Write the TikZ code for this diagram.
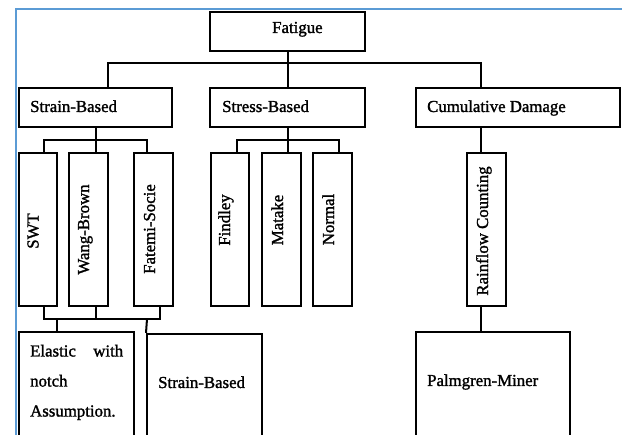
\documentclass[tikz,border=0pt]{standalone}
\usepackage{fontspec}
\setmainfont{Liberation Serif}[FakeBold=1.5]
\definecolor{frameblue}{RGB}{91,155,213}
\begin{document}
\begin{tikzpicture}[x=1pt,y=-1pt,
  box/.style={draw=black, line width=2pt, inner sep=0pt},
  tallbox/.style={box, minimum width=38.5pt, minimum height=153pt},
  conn/.style={draw=black, line width=2pt},
  txt/.style={inner sep=0pt, font=\fontsize{16.8}{20}\selectfont},
  vtxt/.style={txt, rotate=90, anchor=base}]
\useasboundingbox (0,0) rectangle (622,435);
\draw[frameblue, line width=1.8pt] (16,436) -- (16,9) -- (623,9);

% top level
\node[box, minimum width=155pt, minimum height=39pt] (fat) at (287.5,31.5) {};
\node[box, minimum width=153pt, minimum height=39pt] (sb) at (95.5,107.5) {};
\node[box, minimum width=155pt, minimum height=39pt] (ss) at (287.5,107.5) {};
\node[box, minimum width=204pt, minimum height=39pt] (cd) at (518,107.5) {};

% tall boxes
\node[tallbox] (swt) at (38,229.5) {};
\node[tallbox] (wb) at (88.5,229.5) {};
\node[tallbox] (fs) at (153.5,229.5) {};
\node[tallbox] (fin) at (230,229.5) {};
\node[tallbox] (mat) at (281.5,229.5) {};
\node[tallbox] (nor) at (332.5,229.5) {};
\node[tallbox] (rf) at (486.5,229.5) {};

% bottom boxes
\node[box, minimum width=115pt, minimum height=127pt] (el) at (76.5,396) {};
\node[box, minimum width=115pt, minimum height=126pt] (s2) at (204.5,397) {};
\node[box, minimum width=154pt, minimum height=127pt] (pm) at (493,396) {};

% texts
\node[txt, anchor=base west] (tfat) at (272,33) {Fatigue};
\node[txt, anchor=base west] (tsb) at (30,112) {Strain-Based};
\node[txt, anchor=base west] (tss) at (222,112) {Stress-Based};
\node[txt, anchor=base west] (tcd) at (427,112) {Cumulative Damage};
\node[vtxt] (tswt) at (38.5,231) {SWT};
\node[vtxt] (twb) at (89,229.5) {Wang-Brown};
\node[vtxt] (tfs) at (155,229) {Fatemi-Socie};
\node[vtxt] (tfin) at (230,220) {Findley};
\node[vtxt] (tmat) at (283,220) {Matake};
\node[vtxt] (tnor) at (334,219.5) {Normal};
\node[vtxt] (trf) at (488,231) {Rainflow Counting};
\node[txt, anchor=base west, text width=93pt, align=left,
      font=\fontsize{16.8}{30}\selectfont] (tel) at (30,356.5)
      {Elastic\hfill with\\notch\\Assumption.};
\node[txt, anchor=base west] (ts2) at (158,388) {Strain-Based};
\node[txt, anchor=base west] (tpm) at (427,386) {Palmgren-Miner};

% connectors
\coordinate (busA) at (108,63);
\coordinate (busB) at (480.5,63);
\draw[conn] (busA |- sb.north) -- (busA) -- (busB) -- (busB |- cd.north);
\draw[conn] (fat.south) -- (fat.south |- busA);
\draw[conn] (ss.north) -- (ss.north |- busA);

\coordinate (sA) at (44,140);
\coordinate (sC) at (147,140);
\draw[conn] (swt.north -| sA) -- (sA) -- (sC) -- (fs.north -| sC);
\draw[conn] (sb.south) -- (wb.north -| sb.south);

\coordinate (tA) at (237,140);
\coordinate (tC) at (339,140);
\draw[conn] (fin.north -| tA) -- (tA) -- (tC) -- (nor.north -| tC);
\draw[conn] (ss.south) -- (mat.north -| ss.south);

\draw[conn] (cd.south -| busB) -- (rf.north -| busB);
\draw[conn] (rf.south -| busB) -- (pm.north -| busB);

\coordinate (uA) at (44,319);
\coordinate (uC) at (159.5,319);
\draw[conn] (swt.south -| uA) -- (uA) -- (uC) -- (fs.south -| uC);
\draw[conn] (wb.south -| sb.south) -- (sb.south |- uA);
\coordinate (uD) at (57,319);
\draw[conn] (uD) -- (el.north -| uD);
\coordinate (uE) at (147,319);
\draw[conn] (uE) -- (s2.north west);
\end{tikzpicture}
\end{document}
